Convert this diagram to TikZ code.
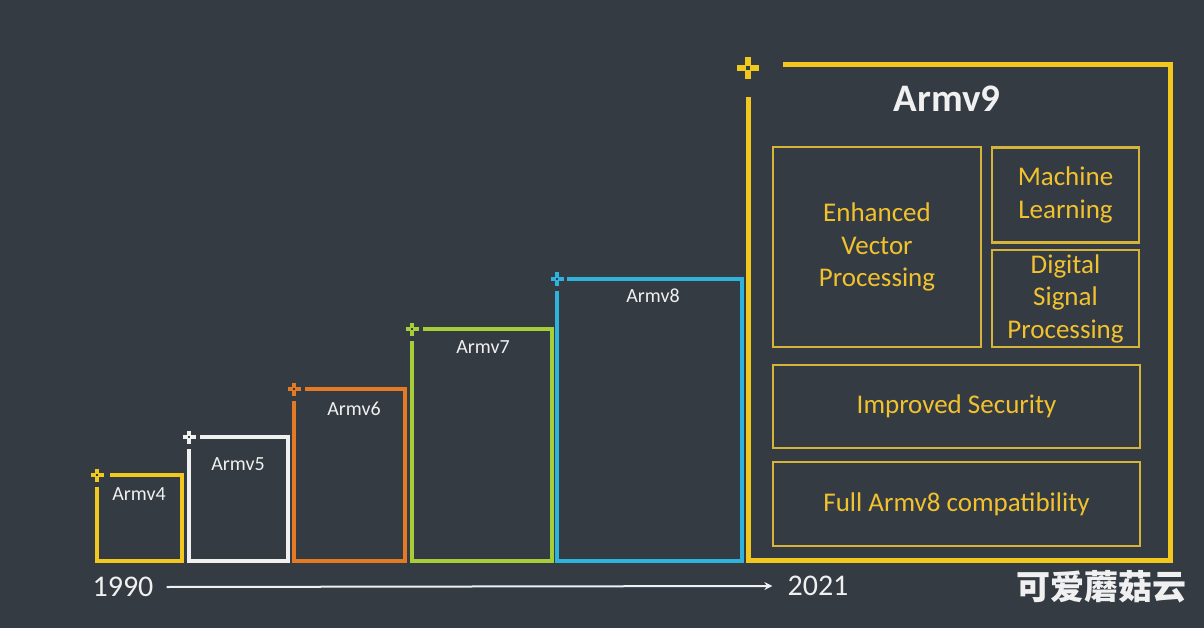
\documentclass[tikz,border=0pt]{standalone}
\usepackage{fontspec}
\setmainfont{Carlito}
\newfontfamily\cjk{Noto Sans CJK SC}
\usetikzlibrary{arrows.meta}
\definecolor{bg}{RGB}{52,59,67}
\definecolor{ylw}{RGB}{240,200,30}
\definecolor{wht}{RGB}{240,240,240}
\definecolor{org}{RGB}{228,122,36}
\definecolor{lime}{RGB}{166,206,56}
\definecolor{cyn}{RGB}{46,180,220}
\definecolor{gbox}{RGB}{214,180,58}
\definecolor{gtxt}{RGB}{242,194,46}
\tikzset{
  frame/.style={line width=4pt},
  bigframe/.style={line width=5pt},
  plusmark/.pic={
    \draw[line width=3.2pt] (-6.5,0)--(6.5,0) (0,-6.5)--(0,6.5);
    \fill[bg] (-1.2,-1.2) rectangle (1.2,1.2);
  },
  bigplus/.pic={
    \draw[line width=6pt] (-11,0)--(11,0) (0,-11)--(0,11);
    \fill[bg] (-2,-2) rectangle (2,2);
  },
  lbl/.style={text=wht, inner sep=0pt, font=\fontsize{20}{22}\selectfont},
  ibox/.style={draw=gbox, line width=2.4pt, text=gtxt, align=center, inner sep=0pt,
    font=\fontsize{27}{32.5}\selectfont},
  yr/.style={text=wht, inner sep=0pt, font=\fontsize{30}{32}\selectfont},
}
\begin{document}
\begin{tikzpicture}[x=1pt,y=-1pt]
\useasboundingbox (0,0) rectangle (1204,628);
\fill[bg] (0,0) rectangle (1204,628);

% Armv4
\draw[frame, ylw] (110,475) -| (182,561) -| (97,487);
\pic[color=ylw] at (97,475) {plusmark};
\node[lbl] (l4) at (139,494) {Armv4};
% Armv5
\draw[frame, wht] (200,437) -| (288,561) -| (189,449);
\pic[color=wht] at (189,437) {plusmark};
\node[lbl] (l5) at (238,464) {Armv5};
% Armv6
\draw[frame, org] (305,389) -| (405,561) -| (294,401);
\pic[color=org] at (294,389) {plusmark};
\node[lbl] (l6) at (354,409) {Armv6};
% Armv7
\draw[frame, lime] (423,329) -| (552,561) -| (412,341);
\pic[color=lime] at (412,329) {plusmark};
\node[lbl] (l7) at (483,347) {Armv7};
% Armv8
\draw[frame, cyn] (567,279) -| (742,561) -| (557,291);
\pic[color=cyn] at (557,279) {plusmark};
\node[lbl] (l8) at (653,296) {Armv8};

% Armv9
\draw[bigframe, ylw] (783,65) -| (1170,560) -| (748,97);
\pic[color=ylw] at (748,68) {bigplus};
\node[text=wht, inner sep=0pt, font=\fontsize{39}{41}\selectfont\bfseries] (l9) at (947,99) {Armv9};

\node[ibox, minimum width=208pt, minimum height=200pt] (evp) at (877,247) {Enhanced\\Vector\\Processing};
\node[ibox, minimum width=147pt, minimum height=95pt] (ml) at (1065.5,195) {Machine\\Learning};
\node[ibox, minimum width=147pt, minimum height=97pt] (dsp) at (1065.5,298.5) {Digital\\Signal\\Processing};
\node[ibox, minimum width=367pt, minimum height=83pt] (sec) at (956.5,406.5) {Improved Security};
\node[ibox, minimum width=367pt, minimum height=84pt] (full) at (956.5,504) {Full Armv8 compatibility};

% timeline
\node[yr] (y1) at (123,587) {1990};
\node[yr] (y2) at (818,586) {2021};
\draw[wht, line width=2pt, -{Stealth[length=8pt,width=8pt]}] ([xshift=13pt]y1.east) -- ([xshift=-15pt]y2.west);

\node[text=wht, inner sep=0pt, font=\fontsize{34}{36}\selectfont\cjk\bfseries] (wm) at (1101,587) {可爱蘑菇云};
\end{tikzpicture}
\end{document}
